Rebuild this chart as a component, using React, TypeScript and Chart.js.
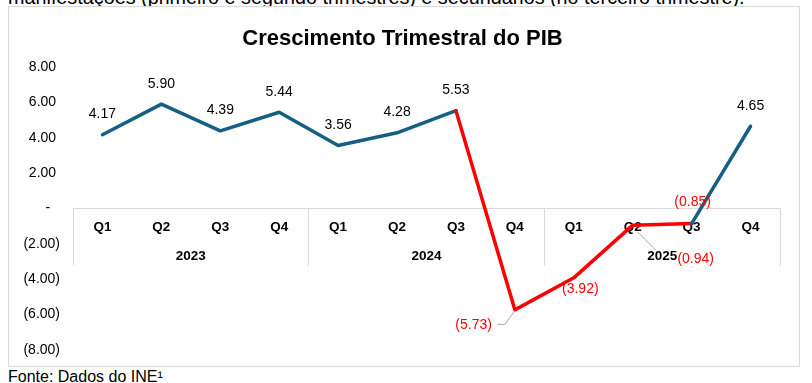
import React, { useEffect, useRef } from 'react';
import { Chart, registerables } from 'chart.js';

Chart.register(...registerables);

// ---- data ----
const contextText = 'manifestações (primeiro e segundo trimestres) e secundários (no terceiro trimestre).';
const chartTitle = 'Crescimento Trimestral do PIB';
const sourceText = 'Fonte: Dados do INE¹';
const quarters = ['Q1', 'Q2', 'Q3', 'Q4', 'Q1', 'Q2', 'Q3', 'Q4', 'Q1', 'Q2', 'Q3', 'Q4'];
const years = ['2023', '2024', '2025'];
const quartersPerYear = 4;
const growth = [4.17, 5.9, 4.39, 5.44, 3.56, 4.28, 5.53, -5.73, -3.92, -0.94, -0.85, 4.65];
const highlightFrom = 6; // index where the red stretch starts
const highlightTo = 10; // index where the red stretch ends
const yMin = -8;
const yMax = 8;
const yStep = 2;

// ---- styles ----
const BLUE = '#156082';
const RED = '#FF0000';
const GRID = '#d9d9d9';
const FONT = '"Liberation Sans", Arial, sans-serif';

function fmtTick(v: number): string {
  if (v === 0) return '-\u2002\u2009';
  const s = Math.abs(v).toFixed(2);
  return v < 0 ? `(${s})` : `${s} `;
}

function fmtLabel(v: number): string {
  const s = Math.abs(v).toFixed(2);
  return v < 0 ? `(${s})` : s;
}

type Place = { dx: number; dy: number; align?: CanvasTextAlign; leader?: number[][] };
const labelPlacement: Record<number, Place> = {
  7: { dx: -23, dy: 15, align: 'right', leader: [[0, 1], [-10, 14.5], [-17.5, 14.5]] },
  8: { dx: 6.5, dy: 11 },
  9: { dx: 63, dy: 34, leader: [[4.5, 6.5], [23, 25]] },
  10: { dx: 1, dy: -21 },
};

const groupAxisPlugin = {
  id: 'groupAxis',
  beforeDraw(chart: any) {
    const { ctx } = chart;
    ctx.save();
    ctx.fillStyle = '#000';
    ctx.font = `bold 22px ${FONT}`;
    ctx.textAlign = 'center';
    ctx.textBaseline = 'alphabetic';
    ctx.fillText(chartTitle, chart.width / 2 - 1.5, 37.5);
    ctx.restore();
  },
  beforeDatasetsDraw(chart: any) {
    const { ctx, chartArea } = chart;
    const x = chart.scales.x;
    const y = chart.scales.y;
    const y0 = Math.floor(y.getPixelForValue(0)) + 0.5;
    const depth = 57;
    ctx.save();
    ctx.strokeStyle = GRID;
    ctx.lineWidth = 1;
    ctx.beginPath();
    ctx.moveTo(chartArea.left, y0);
    ctx.lineTo(chartArea.right, y0);
    const xs: number[] = [chartArea.left];
    for (let g = 1; g < years.length; g++) {
      const a = x.getPixelForValue(g * quartersPerYear - 1);
      const b = x.getPixelForValue(g * quartersPerYear);
      xs.push((a + b) / 2);
    }
    xs.push(chartArea.right);
    xs.forEach((px) => {
      const xx = Math.floor(px) + 0.5;
      ctx.moveTo(xx, y0);
      ctx.lineTo(xx, y0 + depth);
    });
    ctx.stroke();

    ctx.fillStyle = '#000';
    ctx.textAlign = 'center';
    ctx.textBaseline = 'middle';
    ctx.font = `bold 13.5px ${FONT}`;
    quarters.forEach((q, i) => {
      ctx.fillText(q, x.getPixelForValue(i), y0 + 19);
    });
    years.forEach((yr, g) => {
      const a = x.getPixelForValue(g * quartersPerYear);
      const b = x.getPixelForValue(g * quartersPerYear + quartersPerYear - 1);
      ctx.fillText(yr, (a + b) / 2, y0 + 47.5);
    });
    ctx.restore();
  },
  afterDatasetsDraw(chart: any) {
    const { ctx } = chart;
    const meta = chart.getDatasetMeta(0);
    ctx.save();
    ctx.font = `14px ${FONT}`;
    ctx.textBaseline = 'middle';
    meta.data.forEach((pt: any, i: number) => {
      const v = growth[i];
      const p = labelPlacement[i] || { dx: 0, dy: -20.5 };
      if (p.leader) {
        ctx.strokeStyle = '#a6a6a6';
        ctx.lineWidth = 1;
        ctx.beginPath();
        p.leader.forEach(([lx, ly], k) => {
          if (k === 0) ctx.moveTo(pt.x + lx, pt.y + ly);
          else ctx.lineTo(pt.x + lx, pt.y + ly);
        });
        ctx.stroke();
      }
      ctx.fillStyle = v < 0 ? RED : '#000';
      ctx.textAlign = p.align || 'center';
      ctx.fillText(fmtLabel(v), pt.x + p.dx, pt.y + p.dy);
    });
    ctx.restore();
  },
};

export default function App() {
  const ref = useRef<HTMLCanvasElement | null>(null);

  useEffect(() => {
    if (!ref.current) return;
    const chart = new Chart(ref.current, {
      type: 'line',
      data: {
        labels: quarters,
        datasets: [
          {
            data: growth,
            borderColor: BLUE,
            borderWidth: 3.5,
            pointRadius: 0,
            pointHoverRadius: 0,
            tension: 0,
            borderJoinStyle: 'round',
            borderCapStyle: 'round',
            segment: {
              borderColor: (c: any) =>
                c.p0DataIndex >= highlightFrom && c.p1DataIndex <= highlightTo ? RED : BLUE,
            },
          } as any,
        ],
      },
      options: {
        responsive: false,
        animation: false,
        devicePixelRatio: 1,
        layout: { padding: { top: 60, bottom: 16, left: 0, right: 19 } },
        plugins: {
          legend: { display: false },
          tooltip: { enabled: false },
          title: { display: false },
        },
        scales: {
          x: { display: false, offset: true },
          y: {
            min: yMin,
            max: yMax,
            ticks: {
              stepSize: yStep,
              callback: (v: any) => fmtTick(Number(v)),
              color: '#000',
              font: { family: FONT, size: 14 },
              padding: 0,
            },
            grid: { display: false, drawTicks: true, tickLength: 13 },
            border: { display: false },
            afterFit: (s: any) => {
              s.width = 64;
            },
          },
        },
      },
      plugins: [groupAxisPlugin],
    });
    return () => chart.destroy();
  }, []);

  return (
    <div
      style={{
        position: 'fixed',
        left: 0,
        top: 0,
        width: 812,
        height: 383,
        overflow: 'hidden',
        background: '#fff',
        fontFamily: FONT,
        color: '#000',
      }}
    >
      <div
        style={{
          position: 'absolute',
          left: 8,
          top: -13,
          fontSize: 19.8,
          lineHeight: '20px',
          whiteSpace: 'nowrap',
        }}
      >
        {contextText}
      </div>
      <div
        style={{
          position: 'absolute',
          left: 8,
          top: 6,
          width: 790,
          height: 359,
          border: `1px solid ${GRID}`,
          background: '#fff',
        }}
      >
        <canvas ref={ref} width={790} height={359} style={{ display: 'block', width: 790, height: 359 }} />
      </div>
      <div
        style={{
          position: 'absolute',
          left: 8,
          top: 368.5,
          fontSize: 16,
          lineHeight: '16px',
          whiteSpace: 'nowrap',
        }}
      >
        {sourceText}
      </div>
    </div>
  );
}
